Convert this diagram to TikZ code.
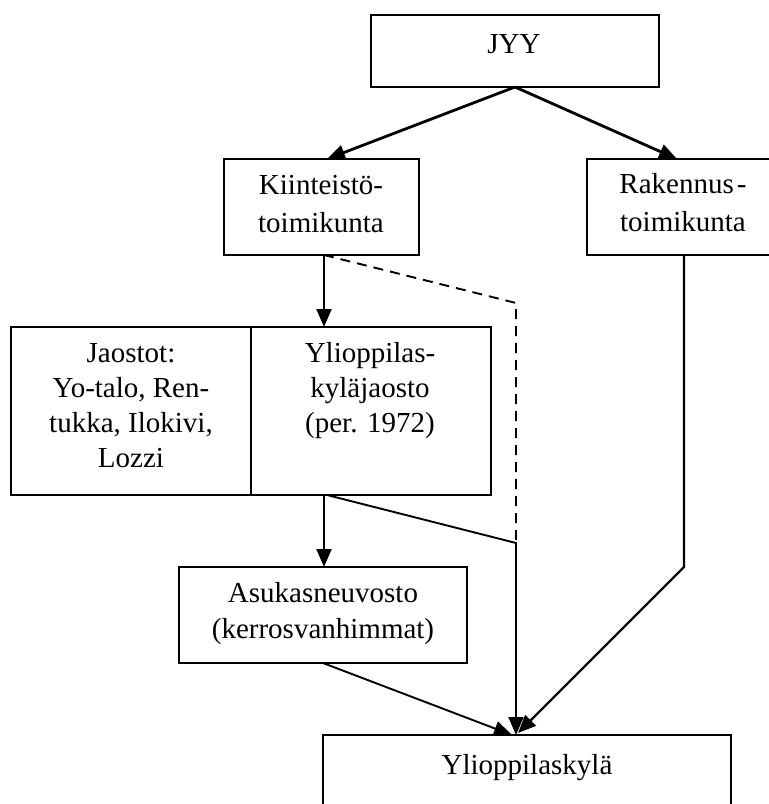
\documentclass[tikz,border=0pt]{standalone}
\usepackage{fontspec}
\setmainfont{Liberation Serif}
\usetikzlibrary{arrows.meta}
\begin{document}
\begin{tikzpicture}[x=1pt,y=-1pt,
  box/.style={draw, line width=1.7pt, inner sep=0pt, outer sep=0pt, anchor=north west},
  lbl/.style={font=\fontsize{29}{35}\selectfont, anchor=base, inner sep=0pt},
  conn/.style={line width=1.9pt},
  tip/.style={-{Triangle[length=18pt,width=15pt]}},
  arr/.style={conn, tip},
  thick arr/.style={line width=2.8pt, tip},
  dashline/.style={line width=1.9pt, dash pattern=on 10pt off 7pt}
]
\useasboundingbox (0,0) rectangle (769,804);
\fill[white] (0,0) rectangle (769,804);
\clip (0,0) rectangle (769,804);

% boxes
\node[box, minimum width=288pt, minimum height=72pt] (jyy) at (371,15) {};
\node[box, minimum width=195pt, minimum height=96pt] (kt) at (224,159) {};
\node[box, minimum width=193pt, minimum height=96pt] (rak) at (587,159) {};
\node[box, minimum width=240pt, minimum height=168pt] (jao) at (11,327) {};
\node[box, minimum width=240pt, minimum height=168pt] (ykj) at (251,327) {};
\node[box, minimum width=288pt, minimum height=96pt] (asu) at (179,567) {};
\node[box, minimum width=408pt, minimum height=100pt] (ysk) at (323,735) {};

% texts
\node[lbl] (t1) at (514,53) {JYY};
\node[lbl] (t2) at (321,194) {Kiinteistö-};
\node[lbl] (t3) at (321,232) {toimikunta};
\node[lbl] (t4) at (683,193) {Rakennus\kern3pt-};
\node[lbl] (t5) at (683,231) {toimikunta};
\node[lbl] (t6) at (131,362) {Jaostot:};
\node[lbl] (t7) at (131,397) {Yo-talo, Ren-};
\node[lbl] (t8) at (131,432) {tukka, Ilokivi,};
\node[lbl] (t9) at (131,467) {Lozzi};
\node[lbl] (t10) at (370,362) {Ylioppilas-};
\node[lbl] (t11) at (370,397) {kyläjaosto};
\node[lbl] (t12) at (370,432) {(per. 1972)};
\node[lbl] (t13) at (323,602) {Asukasneuvosto};
\node[lbl] (t14) at (323,638) {(kerrosvanhimmat)};
\node[lbl] (t15) at (527,774) {Ylioppilaskylä};

% connection points
\coordinate (jyyS) at (515,87);
\coordinate (ktN) at (327,159);
\coordinate (rakN) at (677,159);
\coordinate (ktS) at (324,255);
\coordinate (ykjN) at (324,327);
\coordinate (dbend) at (516,303);
\coordinate (djoin) at (516,543);
\coordinate (ykjS) at (324,495);
\coordinate (ykjS2) at (327,495);
\coordinate (asuN) at (324,567);
\coordinate (asuS) at (323,663);
\coordinate (rakS) at (684,255);
\coordinate (rbend) at (684,567);
\coordinate (yskA) at (512,735);
\coordinate (yskB) at (516,735);
\coordinate (yskC) at (518,733);

% connectors
\draw[thick arr] (jyyS) -- (ktN);
\draw[thick arr] (jyyS) -- (rakN);
\draw[arr] (ktS) -- (ykjN);
\draw[dashline] (ktS) -- (dbend) -- (djoin);
\draw[arr] (ykjS2) -- (djoin) -- (yskB);
\draw[arr] (ykjS) -- (asuN);
\draw[arr] (asuS) -- (yskA);
\draw[line width=2.4pt, tip] (rakS) -- (rbend) -- (yskC);
\end{tikzpicture}
\end{document}
